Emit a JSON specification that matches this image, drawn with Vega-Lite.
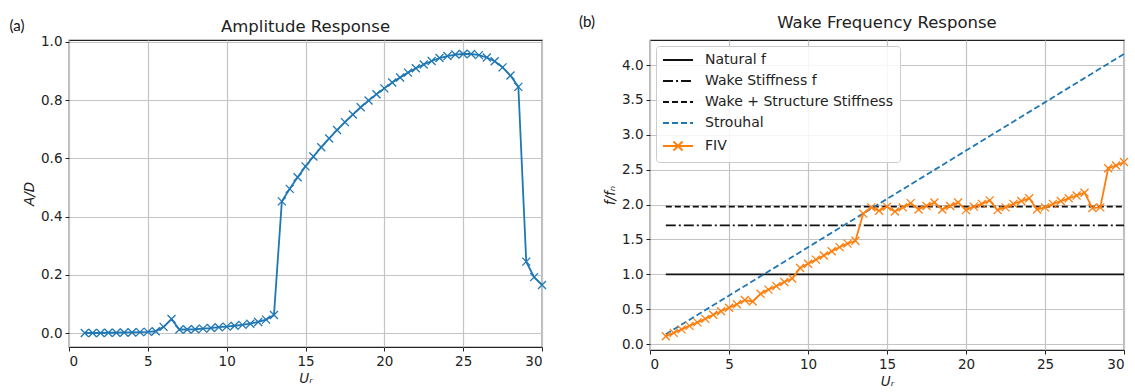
{
  "$schema": "https://vega.github.io/schema/vega-lite/v6.json",
  "background": "white",
  "padding": {"left": 8, "top": 14, "right": 0, "bottom": 0},
  "autosize": {"type": "pad"},
  "spacing": 28,
  "resolve": {
    "scale": {"color": "independent", "strokeDash": "independent"},
    "legend": {"color": "independent", "strokeDash": "independent"}
  },
  "config": {
    "font": "DejaVu Sans",
    "view": {"stroke": "#222222", "strokeWidth": 1.2},
    "axis": {
      "labelFont": "DejaVu Sans", "labelFontSize": 13.5, "labelColor": "#222222",
      "tickColor": "#222222", "tickSize": 4, "tickWidth": 1, "domain": false,
      "gridColor": "#c4c4c4", "gridWidth": 1.2, "labelPadding": 3, "labelOverlap": false,
      "titleFont": "DejaVu Sans", "titleFontSize": 13.5, "titleFontWeight": "normal", "titleColor": "#222222"
    },
    "title": {"font": "DejaVu Sans", "fontSize": 16.5, "fontWeight": "normal", "color": "#222222", "offset": -17}
  },
  "datasets": {
    "amp": [
      {"U": 1.0, "AD": 0.000}, {"U": 1.5, "AD": 0.000}, {"U": 2.0, "AD": 0.000}, {"U": 2.5, "AD": 0.001},
      {"U": 3.0, "AD": 0.001}, {"U": 3.5, "AD": 0.002}, {"U": 4.0, "AD": 0.002}, {"U": 4.5, "AD": 0.003},
      {"U": 5.0, "AD": 0.004}, {"U": 5.5, "AD": 0.006}, {"U": 6.0, "AD": 0.021}, {"U": 6.5, "AD": 0.048},
      {"U": 7.0, "AD": 0.012}, {"U": 7.5, "AD": 0.012}, {"U": 8.0, "AD": 0.013}, {"U": 8.5, "AD": 0.015},
      {"U": 9.0, "AD": 0.017}, {"U": 9.5, "AD": 0.020}, {"U": 10.0, "AD": 0.022}, {"U": 10.5, "AD": 0.025},
      {"U": 11.0, "AD": 0.028}, {"U": 11.5, "AD": 0.032}, {"U": 12.0, "AD": 0.038}, {"U": 12.5, "AD": 0.046},
      {"U": 13.0, "AD": 0.062}, {"U": 13.5, "AD": 0.452}, {"U": 14.0, "AD": 0.495}, {"U": 14.5, "AD": 0.535},
      {"U": 15.0, "AD": 0.572}, {"U": 15.5, "AD": 0.606}, {"U": 16.0, "AD": 0.638}, {"U": 16.5, "AD": 0.668},
      {"U": 17.0, "AD": 0.697}, {"U": 17.5, "AD": 0.724}, {"U": 18.0, "AD": 0.750}, {"U": 18.5, "AD": 0.775},
      {"U": 19.0, "AD": 0.798}, {"U": 19.5, "AD": 0.820}, {"U": 20.0, "AD": 0.840}, {"U": 20.5, "AD": 0.860},
      {"U": 21.0, "AD": 0.877}, {"U": 21.5, "AD": 0.894}, {"U": 22.0, "AD": 0.909}, {"U": 22.5, "AD": 0.922},
      {"U": 23.0, "AD": 0.934}, {"U": 23.5, "AD": 0.944}, {"U": 24.0, "AD": 0.951}, {"U": 24.5, "AD": 0.956},
      {"U": 25.0, "AD": 0.958}, {"U": 25.5, "AD": 0.958}, {"U": 26.0, "AD": 0.954}, {"U": 26.5, "AD": 0.946},
      {"U": 27.0, "AD": 0.933}, {"U": 27.5, "AD": 0.912}, {"U": 28.0, "AD": 0.884}, {"U": 28.5, "AD": 0.845},
      {"U": 29.0, "AD": 0.245}, {"U": 29.5, "AD": 0.192}, {"U": 30.0, "AD": 0.165}
    ],
    "ref": [
      {"series": "Natural f", "U": 1, "f": 1.0}, {"series": "Natural f", "U": 30, "f": 1.0},
      {"series": "Wake Stiffness f", "U": 1, "f": 1.70}, {"series": "Wake Stiffness f", "U": 30, "f": 1.70},
      {"series": "Wake + Structure Stiffness", "U": 1, "f": 1.97}, {"series": "Wake + Structure Stiffness", "U": 30, "f": 1.97},
      {"series": "Strouhal", "U": 1, "f": 0.14}, {"series": "Strouhal", "U": 30, "f": 4.16}
    ],
    "fiv": [
      {"U": 1.0, "f": 0.11}, {"U": 1.5, "f": 0.16}, {"U": 2.0, "f": 0.21}, {"U": 2.5, "f": 0.26},
      {"U": 3.0, "f": 0.31}, {"U": 3.5, "f": 0.36}, {"U": 4.0, "f": 0.42}, {"U": 4.5, "f": 0.47},
      {"U": 5.0, "f": 0.52}, {"U": 5.5, "f": 0.57}, {"U": 6.0, "f": 0.63}, {"U": 6.5, "f": 0.61},
      {"U": 7.0, "f": 0.72}, {"U": 7.5, "f": 0.78}, {"U": 8.0, "f": 0.83}, {"U": 8.5, "f": 0.89},
      {"U": 9.0, "f": 0.94}, {"U": 9.5, "f": 1.09}, {"U": 10.0, "f": 1.15}, {"U": 10.5, "f": 1.21},
      {"U": 11.0, "f": 1.27}, {"U": 11.5, "f": 1.33}, {"U": 12.0, "f": 1.39}, {"U": 12.5, "f": 1.44},
      {"U": 13.0, "f": 1.48}, {"U": 13.5, "f": 1.87}, {"U": 14.0, "f": 1.96}, {"U": 14.5, "f": 1.91},
      {"U": 15.0, "f": 1.97}, {"U": 15.5, "f": 1.90}, {"U": 16.0, "f": 1.96}, {"U": 16.5, "f": 2.02},
      {"U": 17.0, "f": 1.93}, {"U": 17.5, "f": 1.98}, {"U": 18.0, "f": 2.03}, {"U": 18.5, "f": 1.93},
      {"U": 19.0, "f": 1.98}, {"U": 19.5, "f": 2.03}, {"U": 20.0, "f": 1.92}, {"U": 20.5, "f": 1.97},
      {"U": 21.0, "f": 2.01}, {"U": 21.5, "f": 2.06}, {"U": 22.0, "f": 1.92}, {"U": 22.5, "f": 1.96},
      {"U": 23.0, "f": 2.01}, {"U": 23.5, "f": 2.05}, {"U": 24.0, "f": 2.09}, {"U": 24.5, "f": 1.93},
      {"U": 25.0, "f": 1.96}, {"U": 25.5, "f": 2.01}, {"U": 26.0, "f": 2.05}, {"U": 26.5, "f": 2.09},
      {"U": 27.0, "f": 2.13}, {"U": 27.5, "f": 2.17}, {"U": 28.0, "f": 1.95}, {"U": 28.5, "f": 1.96},
      {"U": 29.0, "f": 2.52}, {"U": 29.5, "f": 2.56}, {"U": 30.0, "f": 2.61}
    ],
    "tagA": [{"label": "(a)"}],
    "tagB": [{"label": "(b)"}]
  },
  "hconcat": [
    {
      "width": 473,
      "height": 307,
      "title": "Amplitude Response",
      "layer": [
        {
          "data": {"name": "amp"},
          "mark": {
            "type": "line", "color": "#1f77b4", "strokeWidth": 1.8,
            "point": {"shape": "M-1,-1L1,1M-1,1L1,-1", "filled": false, "size": 64, "strokeWidth": 1.3, "color": "#1f77b4"}
          },
          "encoding": {
            "x": {
              "field": "U", "type": "quantitative",
              "scale": {"domain": [0, 30], "nice": false, "zero": false},
              "axis": {"values": [0, 5, 10, 15, 20, 25, 30], "tickCount": 20, "title": "Uᵣ", "titleFontStyle": "italic"}
            },
            "y": {
              "field": "AD", "type": "quantitative",
              "scale": {"domain": [-0.048, 1.006], "nice": false, "zero": false},
              "axis": {"values": [0, 0.2, 0.4, 0.6, 0.8, 1.0], "tickCount": 20, "format": ".1f", "title": "A/D", "titleFontStyle": "italic"}
            }
          }
        },
        {
          "data": {"name": "tagA"},
          "mark": {"type": "text", "font": "Lato", "fontSize": 15, "align": "center", "baseline": "middle", "clip": false, "color": "#111111"},
          "encoding": {
            "x": {"datum": -3.3, "type": "quantitative"},
            "y": {"datum": 1.055, "type": "quantitative"},
            "text": {"field": "label"}
          }
        }
      ]
    },
    {
      "width": 474,
      "height": 310,
      "title": "Wake Frequency Response",
      "layer": [
        {
          "data": {"name": "ref"},
          "mark": {"type": "line", "strokeWidth": 1.8},
          "encoding": {
            "x": {
              "field": "U", "type": "quantitative",
              "scale": {"domain": [0, 30], "nice": false, "zero": false},
              "axis": {"values": [0, 5, 10, 15, 20, 25, 30], "tickCount": 20, "title": "Uᵣ", "titleFontStyle": "italic"}
            },
            "y": {
              "field": "f", "type": "quantitative",
              "scale": {"domain": [-0.086, 4.36], "nice": false, "zero": false},
              "axis": {"values": [0, 0.5, 1, 1.5, 2, 2.5, 3, 3.5, 4], "tickCount": 20, "format": ".1f", "title": "f/fₙ", "titleFontStyle": "italic"}
            },
            "color": {
              "field": "series", "type": "nominal",
              "scale": {
                "domain": ["Natural f", "Wake Stiffness f", "Wake + Structure Stiffness", "Strouhal", "FIV"],
                "range": ["#111111", "#111111", "#111111", "#1f77b4", "#ff7f0e"]
              },
              "legend": {
                "title": null, "orient": "top-left", "offset": 6,
                "fillColor": "rgba(255,255,255,0.85)", "strokeColor": "#cccccc", "cornerRadius": 3, "padding": 7,
                "labelFont": "DejaVu Sans", "labelFontSize": 14, "labelColor": "#222222", "labelLimit": 400,
                "symbolSize": 100, "symbolStrokeWidth": 2, "rowPadding": 7, "labelOffset": 20, "symbolOffset": 8,
                "encode": {"symbols": {"update": {"shape": {"signal": "datum.value === 'FIV' ? 'M-3,0L3,0M-0.9,-0.9L0.9,0.9M-0.9,0.9L0.9,-0.9' : 'M-3,0L3,0'"}}}}
              }
            },
            "strokeDash": {
              "field": "series", "type": "nominal",
              "scale": {
                "domain": ["Natural f", "Wake Stiffness f", "Wake + Structure Stiffness", "Strouhal", "FIV"],
                "range": [[1, 0], [10, 3, 2, 3], [6, 3], [6, 3], [1, 0]]
              },
              "legend": {
                "title": null, "orient": "top-left", "offset": 6,
                "fillColor": "rgba(255,255,255,0.85)", "strokeColor": "#cccccc", "cornerRadius": 3, "padding": 7,
                "labelFont": "DejaVu Sans", "labelFontSize": 14, "labelColor": "#222222", "labelLimit": 400,
                "symbolSize": 100, "symbolStrokeWidth": 2, "rowPadding": 7, "labelOffset": 20, "symbolOffset": 8,
                "encode": {"symbols": {"update": {"shape": {"signal": "datum.value === 'FIV' ? 'M-3,0L3,0M-0.9,-0.9L0.9,0.9M-0.9,0.9L0.9,-0.9' : 'M-3,0L3,0'"}}}}
              }
            }
          }
        },
        {
          "data": {"name": "fiv"},
          "mark": {
            "type": "line", "color": "#ff7f0e", "strokeWidth": 1.8,
            "point": {"shape": "M-1,-1L1,1M-1,1L1,-1", "filled": false, "size": 64, "strokeWidth": 1.3, "color": "#ff7f0e"}
          },
          "encoding": {
            "x": {
              "field": "U", "type": "quantitative",
              "scale": {"domain": [0, 30], "nice": false, "zero": false},
              "axis": {"values": [0, 5, 10, 15, 20, 25, 30], "tickCount": 20, "title": "Uᵣ", "titleFontStyle": "italic"}
            },
            "y": {
              "field": "f", "type": "quantitative",
              "scale": {"domain": [-0.086, 4.36], "nice": false, "zero": false},
              "axis": {"values": [0, 0.5, 1, 1.5, 2, 2.5, 3, 3.5, 4], "tickCount": 20, "format": ".1f", "title": "f/fₙ", "titleFontStyle": "italic"}
            }
          }
        },
        {
          "data": {"name": "tagB"},
          "mark": {"type": "text", "font": "Lato", "fontSize": 15, "align": "center", "baseline": "middle", "clip": false, "color": "#111111"},
          "encoding": {
            "x": {"datum": -3.99, "type": "quantitative"},
            "y": {"datum": 4.62, "type": "quantitative"},
            "text": {"field": "label"}
          }
        }
      ]
    }
  ]
}
